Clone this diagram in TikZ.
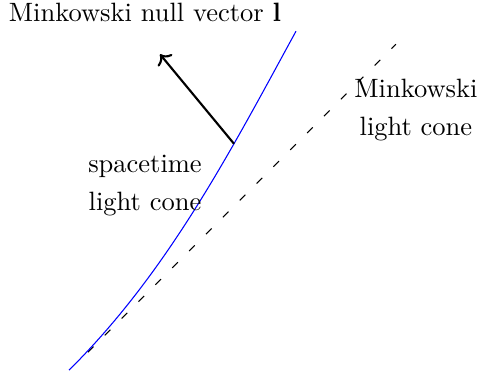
\documentclass[tikz,border=0pt]{standalone}
\usepackage{amsmath}
\usepackage{xcolor}
\usepackage{tikz}
\usetikzlibrary{arrows.meta,positioning,calc}
\definecolor{coneblue}{HTML}{0000FF}
\definecolor{ink}{HTML}{000000}

\begin{document}
\begin{tikzpicture}[x=1cm,y=1cm,scale=1,
    lbl/.style={align=center,font=\normalsize,color=ink}]
  \useasboundingbox (0,0) rectangle (6.38,4.99);
  % flat (Minkowski) cone, drawn dashed
  \coordinate (mlo) at (1.167,0.318);
  \coordinate (mhi) at (5.252,4.403);
  \draw[ink,loosely dashed] (mlo) -- (mhi);
  % curved spacetime cone
  \coordinate (slo) at (0.915,0.080);
  \coordinate (shi) at (3.926,4.576);
  \draw[coneblue] (slo) .. controls (2.228,1.379) and (3.064,2.997) .. (shi)
       coordinate[pos=0.685] (foot);
  % null vector
  \coordinate (tip) at ($(foot)+(-0.981,1.187)$);
  \draw[ink,thick,->] (foot) -- (tip);
  \node[lbl,anchor=base] (vlabel) at (1.923,4.708) {Minkowski null vector $\mathbf{l}$};
  \node[lbl] (mlabel) at (5.517,3.533) {Minkowski\\[2.5pt]light cone};
  \node[lbl] (slabel) at (1.923,2.533) {spacetime\\[2.5pt]light cone};
\end{tikzpicture}
\end{document}
